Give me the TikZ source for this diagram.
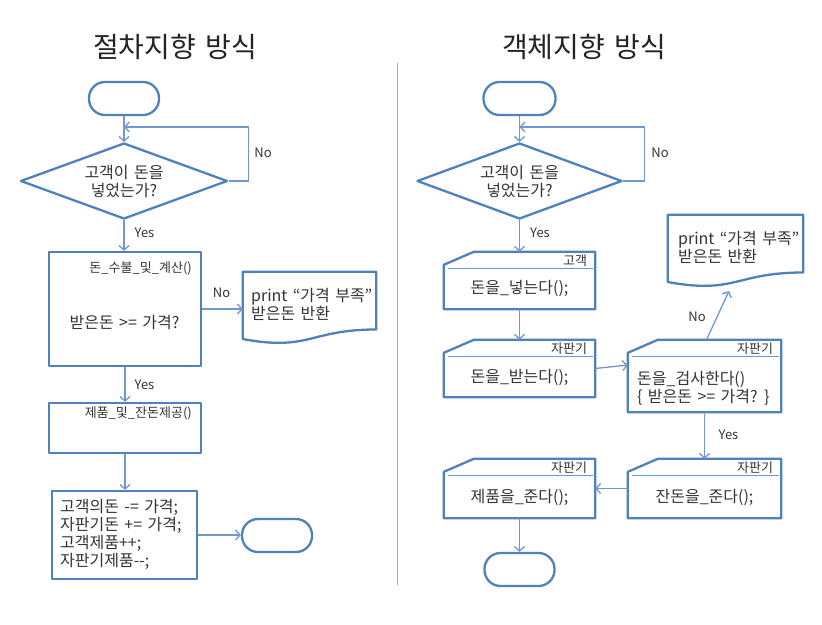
\documentclass[tikz,border=0pt]{standalone}
\usepackage{fontspec}
\setmainfont[WordSpace=1.5]{Noto Sans CJK KR}
\usetikzlibrary{shapes.geometric,arrows.meta,calc}
\definecolor{shpc}{RGB}{79,129,189}
\definecolor{arrc}{RGB}{112,152,206}
\definecolor{txtc}{RGB}{52,52,52}
\definecolor{ttlc}{RGB}{36,36,36}
\definecolor{divc}{RGB}{160,192,100}
\tikzset{
 shp/.style={draw=shpc, line width=2.3pt, fill=white, line join=round},
 arr/.style={draw=arrc, line width=1.3pt, -{Straight Barb[length=4.5pt,width=10pt,line width=1.3pt]}},
 inl/.style={draw=arrc, line width=1pt},
 txt/.style={text=txtc, font=\fontsize{16}{18}\selectfont, inner sep=0pt, align=center},
 lbl/.style={text=txtc, font=\fontsize{13}{15}\selectfont, inner sep=0pt},
 yn/.style={text=txtc, font=\fontsize{13}{15}\selectfont, inner sep=0pt},
 ttl/.style={text=ttlc, font=\fontsize{28}{32}\selectfont, inner sep=0pt},
 term/.style={shp, rounded corners=16pt, minimum width=70pt, minimum height=33pt, inner sep=0pt},
 dec/.style={shp, diamond, aspect=2.7, minimum width=207pt, minimum height=76pt, inner sep=0pt, text=txtc, font=\fontsize{16}{18}\selectfont, align=center},
 box/.style={shp, rectangle, inner sep=0pt},
 ghost/.style={rectangle, inner sep=0pt, draw=none},
}
% #1 name, #2 x, #3 y, #4 w, #5 h, #6 label
\newcommand\mychbox[6]{%
  \node[ghost, minimum width=#4pt, minimum height=#5pt] (#1) at (#2,#3) {};
  \draw[shp] ([yshift=-13pt]#1.north west) -- ([xshift=30pt]#1.north west) -- (#1.north east) -- (#1.south east) -- (#1.south west) -- cycle;
  \draw[inl] ([xshift=4pt,yshift=-17pt]#1.north west) -- ([xshift=-2pt,yshift=-17pt]#1.north east);
  \node[lbl, anchor=base east] (#1l) at ([xshift=-8pt,yshift=-14pt]#1.north east) {#6};
}
% #1 name
\newcommand\mydocshape[1]{%
  \draw[shp] (#1.north west) -- (#1.north east) -- ([yshift=-57.7pt]#1.north east)
    .. controls ([yshift=-57.7pt]#1.north) and ([yshift=-79.7pt]#1.north) .. ([yshift=-67.2pt]#1.north west) -- cycle;
}
\begin{document}
\begin{tikzpicture}[x=1pt,y=-1pt]
\useasboundingbox (0,0) rectangle (822,624);
\fill[white] (0,0) rectangle (822,624);

% titles and divider
\node[ttl] (t1) at (175,47) {절차지향 방식};
\node[ttl] (t2) at (584,47) {객체지향 방식};
\draw[divc, line width=1pt] (397,63) -- (397,585);

% ---------- left ----------
\node[term] (sL) at (124,98.5) {};
\node[dec] (dL) at (124,181) {고객이 돈을\\넣었는가?};
\coordinate (jL) at (124,127);
\draw[arr] (sL.south) -- (dL.north);
\draw[arr] (dL.east) -- ++(20,0) |- (jL);
\node[yn] (noL1) at (263,153) {No};

\node[box, minimum width=152pt, minimum height=114pt] (B1) at (125,309) {};
\node[lbl, anchor=east] (B1l) at (192,268) {돈\_수불\_및\_계산()};
\node[txt] (B1t) at (124.5,322) {받은돈 >= 가격?};
\draw[arr] (dL.south) -- (dL.south |- B1.north);
\node[yn] (yesL1) at (144.5,233) {Yes};

\node[ghost, minimum width=133pt, minimum height=72pt] (docL) at (309.5,308) {};
\mydocshape{docL}
\node[txt, anchor=west, align=left] (docLt) at (251,304) {print “가격 부족”\\받은돈 반환};
\draw[arr] (B1.east) -- (B1.east -| docL.west);
\node[yn] (noL2) at (221.5,293) {No};

\node[box, minimum width=152pt, minimum height=50pt] (B2) at (125,428) {};
\node[lbl, anchor=east] (B2l) at (192,413) {제품\_및\_잔돈제공()};
\draw[arr] (B1.south) -- (B1.south |- B2.north);
\node[yn] (yesL2) at (144.5,385) {Yes};

\node[box, minimum width=145pt, minimum height=88pt] (B3) at (124.5,535) {};
\node[txt, anchor=west, align=left] (B3t) at (60,534.5) {고객의돈 -= 가격;\\자판기돈 += 가격;\\고객제품++;\\자판기제품{-}{-};};
\draw[arr] (B2.south) -- (B2.south |- B3.north);

\node[term] (eL) at (277,535.5) {};
\draw[arr] (B3.east) -- (B3.east -| eL.west);

% ---------- right ----------
\node[term, minimum width=72pt] (sR) at (519.5,98.5) {};
\node[dec, minimum width=205pt] (dR) at (519.5,181) {고객이 돈을\\넣었는가?};
\coordinate (jR) at (519.5,127);
\draw[arr] (sR.south) -- (dR.north);
\draw[arr] (dR.east) -- ++(21,0) |- (jR);
\node[yn] (noR1) at (660,153) {No};

\mychbox{R1}{519.5}{280.5}{151}{57}{고객}
\node[txt] (R1t) at (519.5,288) {돈을\_넣는다();};
\draw[arr] (dR.south) -- (R1.north);
\node[yn] (yesR1) at (540,233) {Yes};

\mychbox{R2}{519.5}{368.5}{151}{57}{자판기}
\node[txt] (R2t) at (519.5,377) {돈을\_받는다();};
\draw[arr] (R1.south) -- (R2.north);

\mychbox{R3}{704.5}{376}{153}{72}{자판기}
\node[txt, anchor=west, align=left] (R3t) at (637,388.5) {돈을\_검사한다()\\\{ 받은돈 >= 가격? \}};
\draw[arr] (R2.east) -- ([yshift=11pt]R3.west);

\node[ghost, minimum width=135pt, minimum height=72pt] (docR) at (735.5,251) {};
\mydocshape{docR}
\node[txt, anchor=west, align=left] (docRt) at (678,247.5) {print “가격 부족”\\받은돈 반환};
\coordinate (docRb) at (729,291);
\draw[arr] ([xshift=2pt]R3.north) -- (docRb);
\node[yn] (noR2) at (697,317) {No};

\mychbox{R4}{704.5}{488.5}{153}{59}{자판기}
\node[txt] (R4t) at (704.5,497) {잔돈을\_준다();};
\draw[arr] (R3.south) -- (R4.north);
\node[yn] (yesR2) at (728.5,435) {Yes};

\mychbox{R5}{519.5}{488.5}{151}{59}{자판기}
\node[txt] (R5t) at (519.5,497) {제품을\_준다();};
\draw[arr] (R4.west) -- (R5.east);

\node[term] (eR) at (519.5,569.5) {};
\draw[arr] (R5.south) -- (eR.north);
\end{tikzpicture}
\end{document}
